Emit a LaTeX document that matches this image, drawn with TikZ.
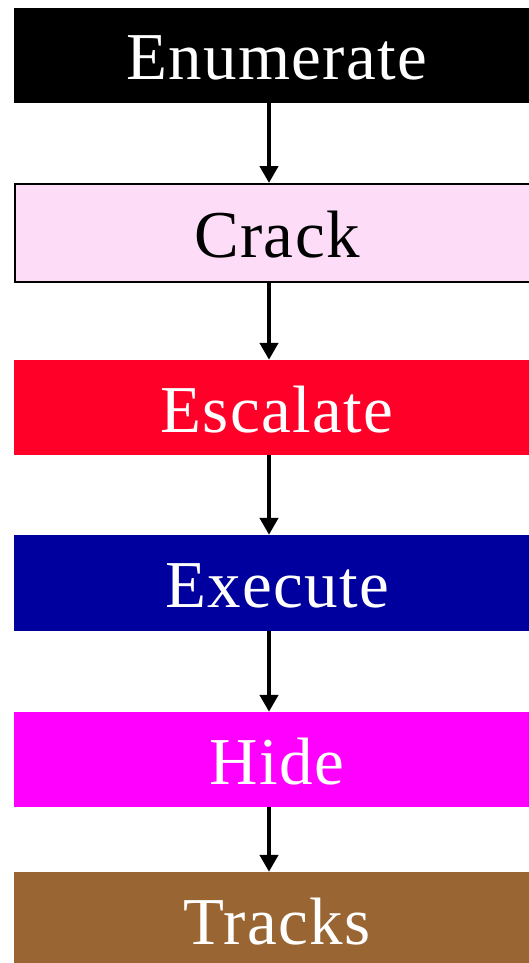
\documentclass[tikz,border=0pt]{standalone}
\usepackage{fontspec}
\setmainfont{Liberation Serif}
\usetikzlibrary{arrows.meta}
\definecolor{crackpink}{HTML}{FDDCF8}
\definecolor{escalatered}{HTML}{FF0029}
\definecolor{executeblue}{HTML}{00009E}
\definecolor{hidemagenta}{HTML}{FF00FF}
\definecolor{tracksbrown}{HTML}{996633}
\begin{document}
\begin{tikzpicture}
[x=1pt,y=-1pt,
  stagebox/.style={shape=rectangle,inner sep=0pt,minimum width=526pt,
    text height=49pt,text depth=0pt,
    font=\fontsize{67}{80}\selectfont\addfontfeature{LetterSpace=2}},%
  flowarrow/.style={-{Triangle[width=18pt,length=17pt]},line width=4.5pt}]
\useasboundingbox (0,0) rectangle (529,963);
\clip (0,0) rectangle (529,963);
%% stages
\foreach \nodename/\y/\h/\fillcol/\textcol/\caption in {
  enumerate/55.5/95/black/white/Enumerate,
  escalate/407.5/95/escalatered/white/Escalate,
  execute/583/96/executeblue/white/Execute,
  hide/759.5/95/hidemagenta/white/Hide,
  tracks/919.5/95/tracksbrown/white/Tracks}
{
  \node (\nodename) at (277,\y) [stagebox,minimum height=\h pt,fill=\fillcol,text=\textcol] {\caption};
}
\node (crack) at (277,233) [stagebox,minimum width=524pt,minimum height=98pt,
  fill=crackpink,draw=black,line width=2pt,text=black] {Crack};
%% arrows
\foreach \startnode/\endnode in {enumerate/crack, crack/escalate,
  escalate/execute, execute/hide, hide/tracks}
{
  \draw[flowarrow] ([xshift=-8pt]\startnode.south) -- ([xshift=-8pt]\endnode.north);
}
\end{tikzpicture}
\end{document}
